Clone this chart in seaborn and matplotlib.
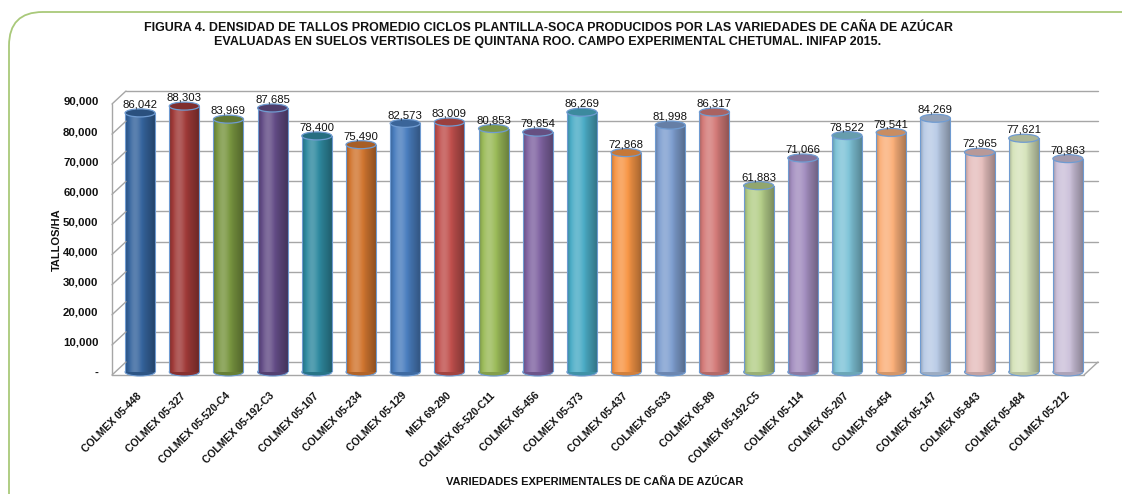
import numpy as np
import pandas as pd
import matplotlib
matplotlib.use("Agg")
import matplotlib.pyplot as plt
import matplotlib.colors as mcolors
from matplotlib.patches import Ellipse, FancyBboxPatch
from matplotlib.lines import Line2D
from matplotlib.transforms import ScaledTranslation, blended_transform_factory
import seaborn as sns

# Data
variedades = [
    "COLMEX 05-448", "COLMEX 05-327", "COLMEX 05-520-C4", "COLMEX 05-192-C3",
    "COLMEX 05-107", "COLMEX 05-234", "COLMEX 05-129", "MEX 69-290",
    "COLMEX 05-520-C11", "COLMEX 05-456", "COLMEX 05-373", "COLMEX 05-437",
    "COLMEX 05-633", "COLMEX 05-89", "COLMEX 05-192-C5", "COLMEX 05-114",
    "COLMEX 05-207", "COLMEX 05-454", "COLMEX 05-147", "COLMEX 05-843",
    "COLMEX 05-484", "COLMEX 05-212",
]
tallos = [86042, 88303, 83969, 87685, 78400, 75490, 82573, 83009, 80853, 79654,
          86269, 72868, 81998, 86317, 61883, 71066, 78522, 79541, 84269, 72965,
          77621, 70863]
colores = [
    "#35649d", "#a03a38", "#799640", "#634c86", "#2f8aa0", "#d17630",
    "#4a7ebf", "#c0504d", "#9bbb59", "#8064a2", "#4bacc6", "#f79646",
    "#7f9fd0", "#d47b79", "#b5cf8a", "#a48fc0", "#7fc4d8", "#fbb07a",
    "#b9cbe6", "#e6bfbe", "#d7e4bc", "#ccc1da",
]

titulo = ("FIGURA 4. DENSIDAD DE TALLOS PROMEDIO CICLOS PLANTILLA-SOCA PRODUCIDOS POR LAS VARIEDADES DE CAÑA DE AZÚCAR\n"
          "EVALUADAS EN SUELOS VERTISOLES DE QUINTANA ROO. CAMPO EXPERIMENTAL CHETUMAL. INIFAP 2015.")

sns.set_theme(style="white")
plt.rcParams["font.family"] = ["Liberation Sans", "DejaVu Sans"]

W, H = 1122, 494
fig = plt.figure(figsize=(W / 100, H / 100), dpi=100)
ax = fig.add_axes([118 / W, 1 - 372 / H, (1090 - 118) / W, (372 - 101) / H])

df = pd.DataFrame({"variedad": variedades, "tallos": tallos})
sns.barplot(data=df, x="variedad", y="tallos", hue="variedad", palette=colores,
            saturation=1, width=0.68, legend=False, ax=ax, zorder=3)

ymax = 90000
px = ymax / 271  # data units per pixel
cap_h = 8 * px
edge = "#6f9bd1"


def shade(c, k):
    c = np.array(mcolors.to_rgb(c))
    return np.clip(c + (1 - c) * k if k > 0 else c * (1 + k), 0, 1)


# cylinder look: gradient, top cap and rounded bottom
t = np.linspace(0, 1, 80)
prof = 0.22 * np.exp(-((t - 0.33) / 0.22) ** 2) - 0.35 * t ** 2.5 - 0.25 * (1 - t) ** 8
for patch, col in zip(ax.patches, colores):
    x0, w, h = patch.get_x(), patch.get_width(), patch.get_height()
    xc = x0 + w / 2
    grad = np.array([[shade(col, k) for k in prof]])
    patch.set_edgecolor("none")
    img = ax.imshow(grad, extent=[x0, x0 + w, 0, h], aspect="auto",
                    interpolation="bilinear", zorder=3.1)
    img.set_clip_path(patch)
    ax.plot([x0, x0], [0, h], color=edge, lw=0.8, zorder=3.2)
    ax.plot([x0 + w, x0 + w], [0, h], color=edge, lw=0.8, zorder=3.2)
    ax.add_patch(Ellipse((xc, 0), w, cap_h, facecolor=shade(col, -0.15),
                         edgecolor=edge, lw=0.8, zorder=2.9, clip_on=False))
    ax.add_patch(Ellipse((xc, h), w, cap_h, facecolor=shade(col, -0.2),
                         edgecolor=edge, lw=0.9, zorder=3.3, clip_on=False))
    ax.annotate(f"{h:,.0f}", (xc, h + cap_h / 2), xytext=(0, -0.5),
                textcoords="offset points", ha="center", va="bottom",
                fontsize=8.2, color="#111111", zorder=5)

ax.set_xlim(-0.5, len(variedades) - 0.5)
ax.set_ylim(0, ymax)
for s in ax.spines.values():
    s.set_visible(False)

# 3D-like walls: back wall grid, left wall, floor
blend = blended_transform_factory(ax.transAxes, ax.transData)
back = blend + ScaledTranslation(8 / 100, 10 / 100, fig.dpi_scale_trans)
front = blend + ScaledTranslation(-6 / 100, -3 / 100, fig.dpi_scale_trans)
gcol = "#a6a6a6"
yticks = list(range(0, ymax + 1, 10000))
for y in yticks:
    ax.add_line(Line2D([0, 1], [y, y], transform=back, color=gcol, lw=1,
                       zorder=1, clip_on=False))
    p0 = fig.transFigure.inverted().transform(front.transform((0, y)))
    p1 = fig.transFigure.inverted().transform(back.transform((0, y)))
    fig.add_artist(Line2D([p0[0], p1[0]], [p0[1], p1[1]], color=gcol, lw=1, zorder=1))
ax.add_line(Line2D([0, 0], [0, ymax], transform=front, color=gcol, lw=1, clip_on=False, zorder=1))
ax.add_line(Line2D([0, 1], [0, 0], transform=front, color=gcol, lw=1, clip_on=False, zorder=1))
q0 = fig.transFigure.inverted().transform(front.transform((1, 0)))
q1 = fig.transFigure.inverted().transform(back.transform((1, 0)))
fig.add_artist(Line2D([q0[0], q1[0]], [q0[1], q1[1]], color=gcol, lw=1, zorder=1))

ax.set_yticks(yticks)
ax.set_yticklabels(["-" if v == 0 else f"{v:,}" for v in yticks],
                   fontsize=8.2, fontweight="bold", color="#111111")
ax.tick_params(axis="y", length=0, pad=14)
ax.set_xticks(range(len(variedades)))
ax.set_xticklabels(variedades, rotation=45, ha="right", va="center",
                   rotation_mode="anchor", fontsize=7.5, fontweight="bold",
                   color="#111111")
ax.tick_params(axis="x", length=0, pad=16)
ax.set_xlabel("VARIEDADES EXPERIMENTALES DE CAÑA DE AZÚCAR", fontsize=8,
              fontweight="bold", color="#111111")
ax.xaxis.set_label_coords((595 - 118) / (1090 - 118), -(477 - 372) / 271)
ax.set_ylabel("TALLOS/HA", fontsize=8, fontweight="bold", color="#111111")
ax.yaxis.set_label_coords(-(118 - 62) / 972, (372 - 240) / 271)

fig.text(548 / W, 1 - 35 / H, titulo, ha="center", va="center",
         fontsize=9, fontweight="bold", color="#111111", linespacing=1.25)

# green rounded frame
fig.add_artist(FancyBboxPatch((9 / W, -0.1), 1.2, 1 - 12 / H + 0.1,
                              boxstyle="round,pad=0,rounding_size=0.03",
                              transform=fig.transFigure, facecolor="none",
                              edgecolor="#a9c97a", lw=1.3, mutation_aspect=W / H))

fig.savefig("out.png", dpi=100)
